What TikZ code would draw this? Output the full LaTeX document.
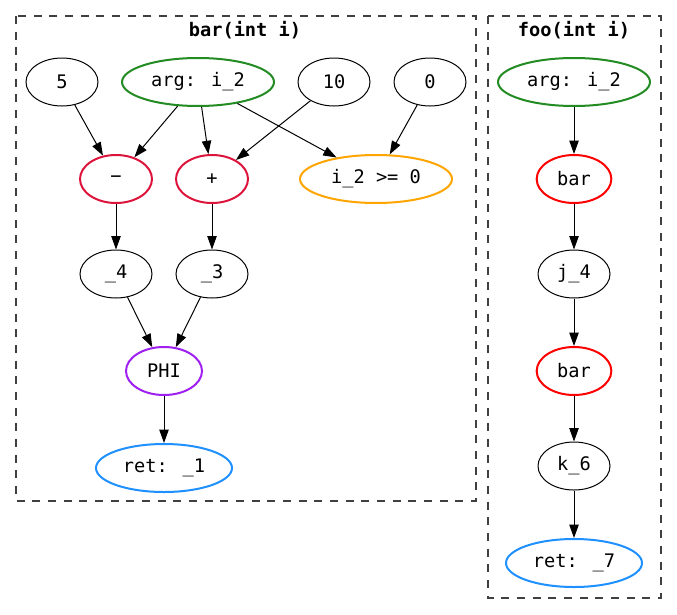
\documentclass[tikz,border=0pt]{standalone}
\usepackage{fontspec}
\setmainfont{DejaVu Sans Mono}
\usetikzlibrary{arrows.meta,shapes.geometric}

\definecolor{fgreen}{RGB}{34,139,34}
\definecolor{crim}{RGB}{220,20,60}
\definecolor{orng}{RGB}{255,165,0}
\definecolor{purp}{RGB}{160,32,240}
\definecolor{dblue}{RGB}{30,144,255}

\begin{document}
\begin{tikzpicture}[x=0.75pt, y=-0.75pt, >={Triangle[length=10pt,width=7pt]},
  font=\fontsize{14}{16}\selectfont, line width=0.75pt,
  nd/.style={ellipse, draw, inner sep=0pt, minimum width=54pt, minimum height=36pt},
  wide/.style={nd, minimum width=114pt},
  thick2/.style={line width=1.5pt},
  argn/.style={wide, thick2, draw=fgreen},
  op/.style={nd, thick2, draw=crim},
  cmp/.style={wide, thick2, draw=orng},
  phin/.style={nd, thick2, draw=purp, minimum width=57pt},
  retn/.style={nd, thick2, draw=dblue, minimum width=102pt},
  calln/.style={nd, thick2, draw=red, minimum width=56pt},
  clus/.style={draw=black!75, line width=1pt, dash pattern=on 6pt off 5.75pt},
  ttl/.style={font=\fontsize{14}{16}\selectfont\bfseries},
]
  \useasboundingbox (0,0) rectangle (677,614);

  % clusters
  \draw[clus] (16,16) rectangle (476,501);
  \node[ttl] (bart) at (245,30) {bar(int i)};
  \draw[clus] (488,16) rectangle (661,598);
  \node[ttl] (foot) at (574,30) {foo(int i)};

  % bar
  \node[nd] (five) at (62,82) {5};
  \node[argn] (bargi) at (198,82) {arg: i\_2};
  \node[nd] (ten) at (334,82) {10};
  \node[nd] (zero) at (430,82) {0};
  \node[op] (minus) at (116,179) {−};
  \node[op] (plus) at (212,179) {+};
  \node[cmp] (ge) at (376,179) {i\_2 >= 0};
  \node[nd] (v4) at (116,274) {\_4};
  \node[nd] (v3) at (212,274) {\_3};
  \node[phin] (phi) at (164,371) {PHI};
  \node[retn] (bret) at (164,468) {ret: \_1};

  \draw[->] (five) -- (minus);
  \draw[->] (bargi) -- (minus);
  \draw[->] (bargi) -- (plus);
  \draw[->] (bargi) -- (ge);
  \draw[->] (ten) -- (plus);
  \draw[->] (zero) -- (ge);
  \draw[->] (minus) -- (v4);
  \draw[->] (plus) -- (v3);
  \draw[->] (v4) -- (phi);
  \draw[->] (v3) -- (phi);
  \draw[->] (phi) -- (bret);

  % foo
  \node[argn] (fargi) at (574,82) {arg: i\_2};
  \node[calln] (call1) at (574,179) {bar};
  \node[nd] (j4) at (574,274) {j\_4};
  \node[calln] (call2) at (574,371) {bar};
  \node[nd] (k6) at (574,466) {k\_6};
  \node[retn] (fret) at (574,563) {ret: \_7};

  \draw[->] (fargi) -- (call1);
  \draw[->] (call1) -- (j4);
  \draw[->] (j4) -- (call2);
  \draw[->] (call2) -- (k6);
  \draw[->] (k6) -- (fret);
\end{tikzpicture}
\end{document}
